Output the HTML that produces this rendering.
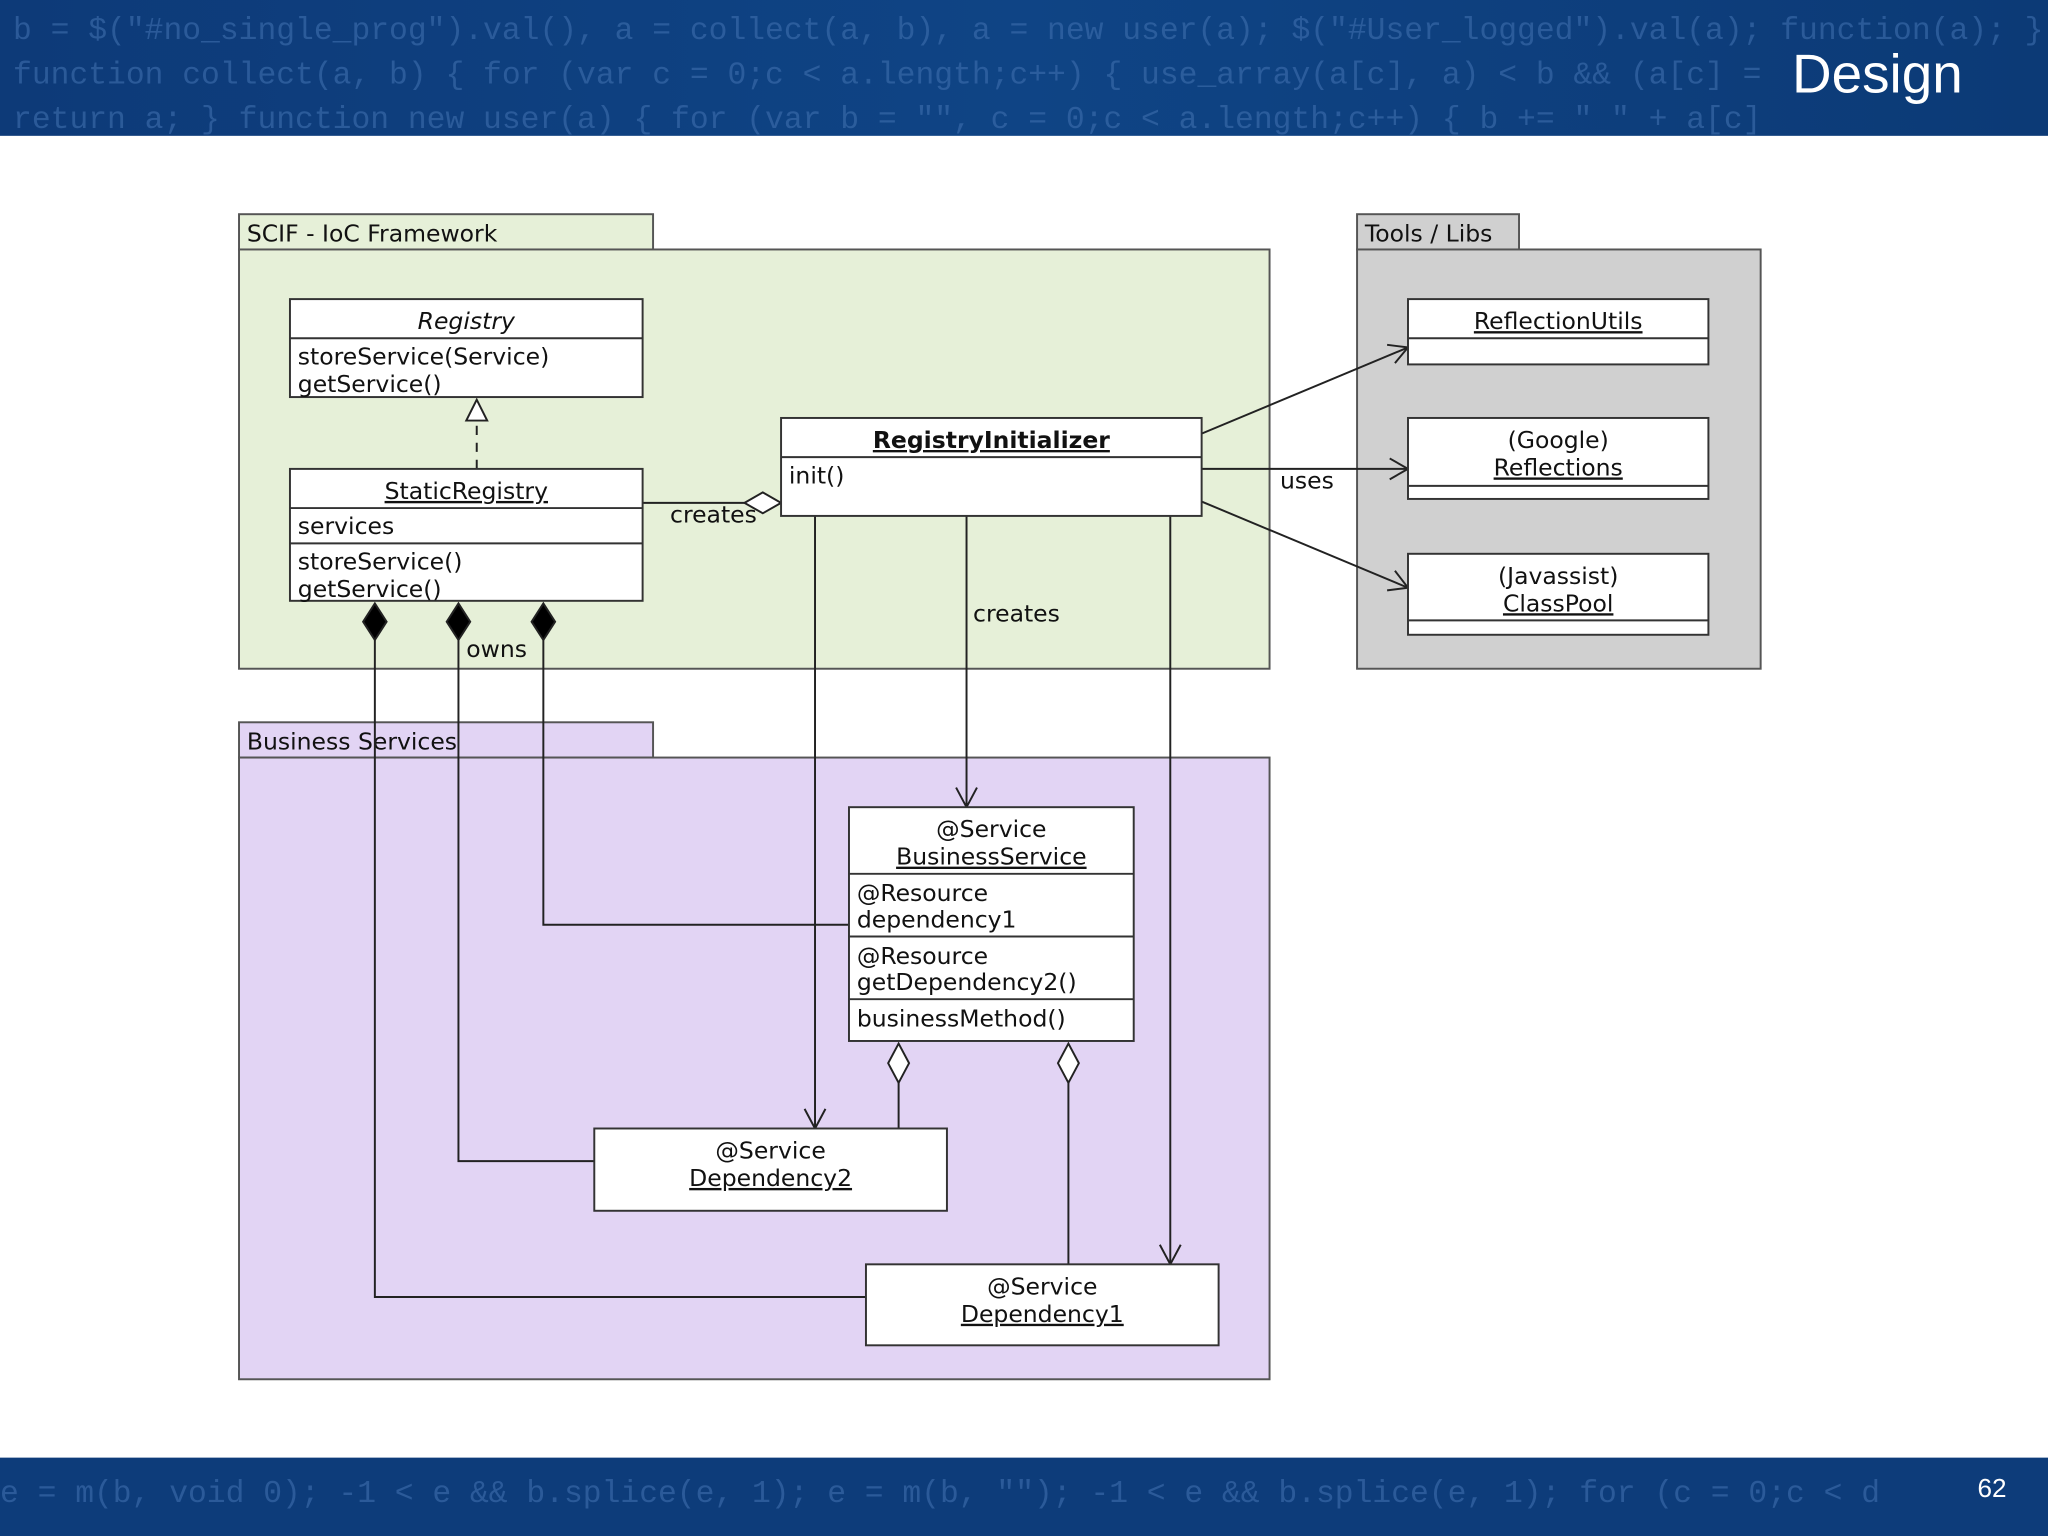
<!DOCTYPE html>
<html><head><meta charset="utf-8"><style>
html,body{margin:0;padding:0;background:#fff;}
svg{display:block;}
text{font-family:"DejaVu Sans","Liberation Sans",sans-serif;}
</style></head><body>
<svg width="2048" height="1536" viewBox="0 0 1568 1176" preserveAspectRatio="none" xmlns="http://www.w3.org/2000/svg">
<defs>
<linearGradient id="hb" x1="0" y1="0" x2="1" y2="0"><stop offset="0" stop-color="#0d3a78"/><stop offset="0.5" stop-color="#0f4485"/><stop offset="1" stop-color="#0c3a76"/></linearGradient>
</defs>
<rect x="0" y="0" width="1568" height="1176" fill="#fff"/>
<!-- header -->
<rect x="0" y="0" width="1568" height="104" fill="url(#hb)"/>
<g fill="#3f6fae" opacity="0.6" font-size="24" font-family="Liberation Mono,monospace">
<text x="10" y="30" style="font-family:'Liberation Mono',monospace">b = $("#no_single_prog").val(), a = collect(a, b), a = new user(a);  $("#User_logged").val(a);  function(a); });</text>
<text x="10" y="64" style="font-family:'Liberation Mono',monospace">function collect(a, b) {  for (var c = 0;c &lt; a.length;c++) {   use_array(a[c], a) &lt; b &amp;&amp; (a[c] = </text>
<text x="10" y="98" style="font-family:'Liberation Mono',monospace">return a; } function new user(a) {  for (var b = "", c = 0;c &lt; a.length;c++) {   b += " " + a[c]</text>
</g>
<text x="1372" y="71" font-size="42" fill="#fff" style="font-family:'Liberation Sans',sans-serif">Design</text>
<!-- footer -->
<rect x="0" y="1116" width="1568" height="60" fill="#0d3c7a"/>
<g fill="#3f6fae" opacity="0.6" font-size="24">
<text x="0" y="1150" style="font-family:'Liberation Mono',monospace">e = m(b, void 0);  -1 &lt; e &amp;&amp; b.splice(e, 1);  e = m(b, "");  -1 &lt; e &amp;&amp; b.splice(e, 1);  for (c = 0;c &lt; d</text>
</g>
<text x="1514" y="1146" font-size="20" fill="#fff" style="font-family:'Liberation Sans',sans-serif">62</text>

<g stroke="#555" stroke-width="1.5">
<!-- packages -->
<rect x="183" y="164" width="317" height="27" fill="#e6f0d8"/>
<rect x="183" y="191" width="789" height="321" fill="#e6f0d8"/>
<rect x="1039" y="164" width="124" height="27" fill="#d0d0d0"/>
<rect x="1039" y="191" width="309" height="321" fill="#d0d0d0"/>
<rect x="183" y="553" width="317" height="27" fill="#e2d4f4"/>
<rect x="183" y="580" width="789" height="476" fill="#e2d4f4"/>
</g>
<g font-size="18" fill="#111">
<text x="189" y="185">SCIF - IoC Framework</text>
<text x="1045" y="185">Tools / Libs</text>
<text x="189" y="574">Business Services</text>
</g>

<!-- connectors -->
<g stroke="#222" stroke-width="1.5" fill="none">
<line x1="365" y1="359" x2="365" y2="322" stroke-dasharray="7,6"/>
<polygon points="365,306 357,322 373,322" fill="#fff"/>
<line x1="492" y1="385" x2="570" y2="385"/>
<polygon points="570,385 584,377 598,385 584,393" fill="#fff"/>
<line x1="920" y1="332" x2="1078" y2="266"/>
<polyline points="1062,264 1078,266 1068,278"/>
<line x1="920" y1="359" x2="1078" y2="359"/>
<polyline points="1064,351 1078,359 1064,367"/>
<line x1="920" y1="384" x2="1078" y2="450"/>
<polyline points="1068,437 1078,450 1062,452"/>
<line x1="740" y1="395" x2="740" y2="618"/>
<polyline points="732,603 740,618 748,603"/>
<line x1="624" y1="395" x2="624" y2="864"/>
<polyline points="616,849 624,864 632,849"/>
<line x1="896" y1="395" x2="896" y2="968"/>
<polyline points="888,953 896,968 904,953"/>
<polyline points="287,490 287,993 663,993"/>
<polyline points="351,490 351,889 455,889"/>
<polyline points="416,490 416,708 650,708"/>
<polygon points="287,462 296,476 287,490 278,476" fill="#000"/>
<polygon points="351,462 360,476 351,490 342,476" fill="#000"/>
<polygon points="416,462 425,476 416,490 407,476" fill="#000"/>
<line x1="688" y1="829" x2="688" y2="864"/>
<polygon points="688,799 696,814 688,829 680,814" fill="#fff"/>
<line x1="818" y1="829" x2="818" y2="968"/>
<polygon points="818,799 826,814 818,829 810,814" fill="#fff"/>
</g>

<!-- classes -->
<g stroke="#333" stroke-width="1.5" fill="#fff">
<rect x="222" y="229" width="270" height="75"/><line x1="222" y1="259" x2="492" y2="259"/>
<rect x="222" y="359" width="270" height="101"/><line x1="222" y1="389" x2="492" y2="389"/><line x1="222" y1="416" x2="492" y2="416"/>
<rect x="598" y="320" width="322" height="75"/><line x1="598" y1="350" x2="920" y2="350"/>
<rect x="1078" y="229" width="230" height="50"/><line x1="1078" y1="259" x2="1308" y2="259"/>
<rect x="1078" y="320" width="230" height="62"/><line x1="1078" y1="372" x2="1308" y2="372"/>
<rect x="1078" y="424" width="230" height="62"/><line x1="1078" y1="475" x2="1308" y2="475"/>
<rect x="650" y="618" width="218" height="179"/><line x1="650" y1="669" x2="868" y2="669"/><line x1="650" y1="717" x2="868" y2="717"/><line x1="650" y1="765" x2="868" y2="765"/>
<rect x="455" y="864" width="270" height="63"/>
<rect x="663" y="968" width="270" height="62"/>
</g>
<g font-size="18" fill="#111">
<text x="357" y="252" text-anchor="middle" font-style="italic">Registry</text>
<text x="228" y="279">storeService(Service)</text>
<text x="228" y="300">getService()</text>
<text x="357" y="382" text-anchor="middle" text-decoration="underline">StaticRegistry</text>
<text x="228" y="409">services</text>
<text x="228" y="436">storeService()</text>
<text x="228" y="457">getService()</text>
<text x="759" y="343" text-anchor="middle" font-weight="bold" text-decoration="underline">RegistryInitializer</text>
<text x="604" y="370">init()</text>
<text x="1193" y="252" text-anchor="middle" text-decoration="underline">ReflectionUtils</text>
<text x="1193" y="343" text-anchor="middle">(Google)</text>
<text x="1193" y="364" text-anchor="middle" text-decoration="underline">Reflections</text>
<text x="1193" y="447" text-anchor="middle">(Javassist)</text>
<text x="1193" y="468" text-anchor="middle" text-decoration="underline">ClassPool</text>
<text x="759" y="641" text-anchor="middle">@Service</text>
<text x="759" y="662" text-anchor="middle" text-decoration="underline">BusinessService</text>
<text x="656" y="690">@Resource</text>
<text x="656" y="710">dependency1</text>
<text x="656" y="738">@Resource</text>
<text x="656" y="758">getDependency2()</text>
<text x="656" y="786">businessMethod()</text>
<text x="590" y="887" text-anchor="middle">@Service</text>
<text x="590" y="908" text-anchor="middle" text-decoration="underline">Dependency2</text>
<text x="798" y="991" text-anchor="middle">@Service</text>
<text x="798" y="1012" text-anchor="middle" text-decoration="underline">Dependency1</text>
<text x="513" y="400">creates</text>
<text x="980" y="374">uses</text>
<text x="745" y="476">creates</text>
<text x="357" y="503">owns</text>
</g>
</svg>
</body></html>
